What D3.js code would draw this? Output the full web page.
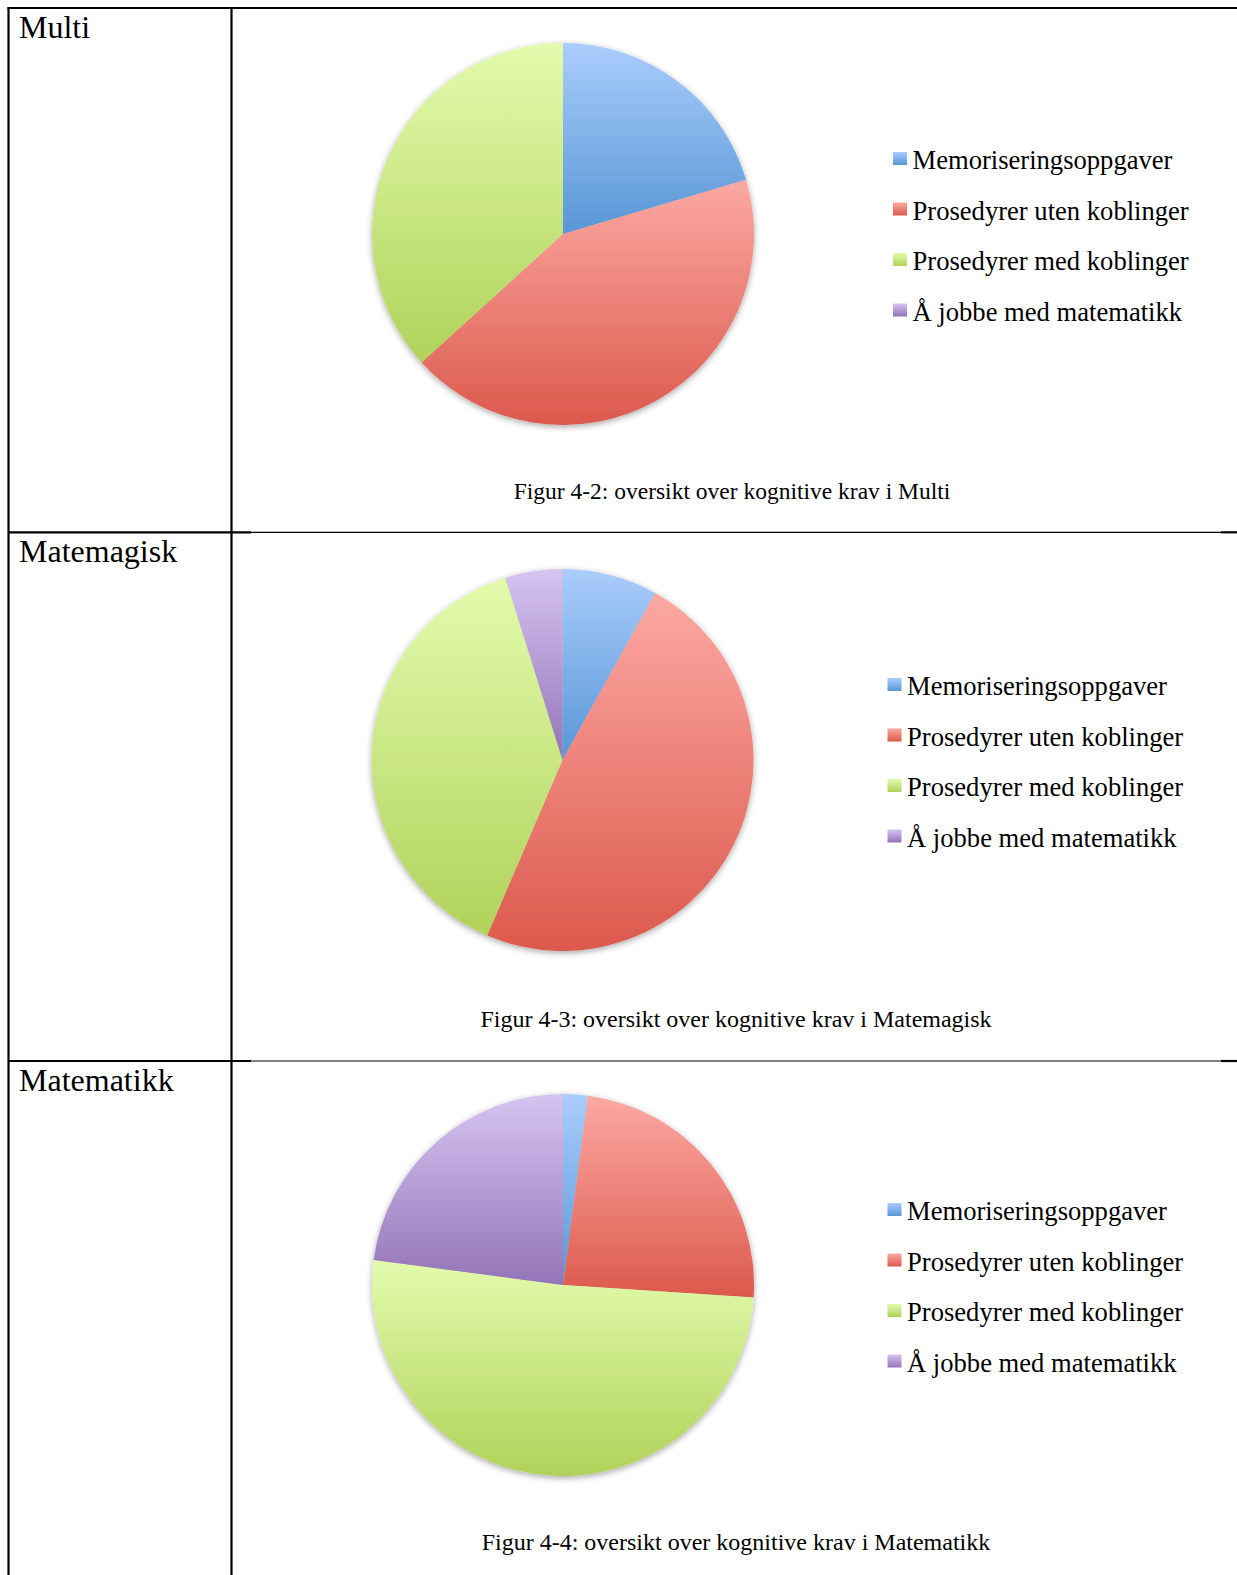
<!DOCTYPE html>
<html>
<head>
<meta charset="utf-8">
<script src="https://cdn.jsdelivr.net/npm/d3@7"></script>
<style>
  html, body { margin: 0; padding: 0; background: #fff; }
  svg text { font-family: "Liberation Serif", "Times New Roman", serif; fill: #000; }
</style>
</head>
<body>
<svg id="chart" width="1237" height="1575"></svg>
<script>
// categories and counts
const categories = ["Memoriseringsoppgaver", "Prosedyrer uten koblinger", "Prosedyrer med koblinger", "Å jobbe med matematikk"];
const multiValues = [10, 21, 18, 0];
const matemagiskValues = [5, 30, 24, 3];
const matematikkValues = [2, 23, 49, 22];
const rowLabels = ["Multi", "Matemagisk", "Matematikk"];
const captions = [
    "Figur 4-2: oversikt over kognitive krav i Multi",
    "Figur 4-3: oversikt over kognitive krav i Matemagisk",
    "Figur 4-4: oversikt over kognitive krav i Matematikk"
];

// gradient colours per category: [top, bottom]
const colors = [
    ["#aacdfc", "#5896d6"],
    ["#fca9a3", "#dc594c"],
    ["#e3fbad", "#b0d25a"],
    ["#d6c4f1", "#9474b7"]
];

const svg = d3.select("#chart");
const W = 1237, H = 1575;
const colX = 231.5, leftX = 8.5;
const rowTops = [8, 532.3, 1061];

const defs = svg.append("defs");
colors.forEach((c, i) => {
    let g = defs.append("linearGradient")
        .attr("id", "grad" + i)
        .attr("x1", 0).attr("y1", 0).attr("x2", 0).attr("y2", 1);
    g.append("stop").attr("offset", "0%").attr("stop-color", c[0]);
    g.append("stop").attr("offset", "100%").attr("stop-color", c[1]);
});
let shadow = defs.append("filter").attr("id", "shadow")
    .attr("x", "-10%").attr("y", "-10%").attr("width", "120%").attr("height", "120%");
shadow.append("feDropShadow")
    .attr("dx", 0).attr("dy", 2).attr("stdDeviation", 3)
    .attr("flood-color", "#000").attr("flood-opacity", 0.35);

const pie = d3.pie().sort(null).value(d => d);
const radius = 191;
const arc = d3.arc().innerRadius(0).outerRadius(radius);

const rows = [
    { label: rowLabels[0], values: multiValues, caption: captions[0], cx: 563, cy: 234, lx: 893, capX: 732, capY: 499, capSize: 23.5 },
    { label: rowLabels[1], values: matemagiskValues, caption: captions[1], cx: 562.5, cy: 760, lx: 887.5, capX: 736, capY: 1027, capSize: 24 },
    { label: rowLabels[2], values: matematikkValues, caption: captions[2], cx: 563, cy: 1285, lx: 887.5, capX: 736, capY: 1550, capSize: 24 }
];

rows.forEach((row, r) => {
    let top = rowTops[r];
    svg.append("text")
        .attr("x", 19).attr("y", top + 30)
        .style("font-size", "32px")
        .text(row.label);

    let g = svg.append("g")
        .attr("transform", "translate(" + row.cx + "," + row.cy + ")")
        .attr("filter", "url(#shadow)");
    g.selectAll("path")
        .data(pie(row.values).filter(d => d.value > 0))
        .enter().append("path")
        .attr("d", arc)
        .attr("fill", d => "url(#grad" + d.index + ")");

    let legend = svg.append("g")
        .attr("transform", "translate(" + row.lx + "," + (row.cy - 65) + ")");
    let items = legend.selectAll("g")
        .data(categories)
        .enter().append("g")
        .attr("transform", (d, i) => "translate(0," + (i * 50.5) + ")");
    items.append("rect")
        .attr("x", 0).attr("y", -17)
        .attr("width", 14).attr("height", 13)
        .attr("fill", (d, i) => "url(#grad" + i + ")");
    items.append("text")
        .attr("x", 19.5).attr("y", 0)
        .style("font-size", "26.6px")
        .text(d => d);

    svg.append("text")
        .attr("x", row.capX).attr("y", row.capY)
        .attr("text-anchor", "middle")
        .style("font-size", row.capSize + "px")
        .text(row.caption);
});

// table lines
const lines = svg.append("g").attr("stroke", "#000");
lines.append("line").attr("x1", leftX - 1).attr("x2", W).attr("y1", 8).attr("y2", 8).attr("stroke-width", 2.2);
lines.append("line").attr("x1", leftX).attr("x2", leftX).attr("y1", 7).attr("y2", H).attr("stroke-width", 2.2);
lines.append("line").attr("x1", colX).attr("x2", colX).attr("y1", 7).attr("y2", H).attr("stroke-width", 2.2);
[rowTops[1], rowTops[2]].forEach(y => {
    lines.append("line").attr("x1", leftX).attr("x2", 251).attr("y1", y).attr("y2", y).attr("stroke-width", 2.2);
    lines.append("line").attr("x1", 251).attr("x2", 1221).attr("y1", y).attr("y2", y).attr("stroke-width", 1.2);
    lines.append("line").attr("x1", 1221).attr("x2", W).attr("y1", y).attr("y2", y).attr("stroke-width", 2.2);
});
</script>
</body>
</html>
